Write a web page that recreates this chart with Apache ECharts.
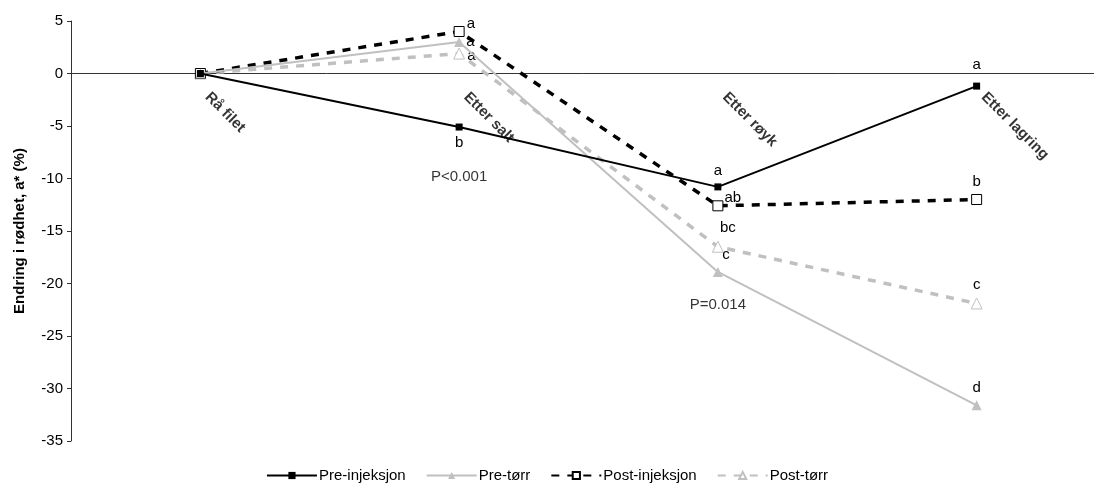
<!DOCTYPE html>
<html>
<head>
<meta charset="utf-8">
<script src="https://cdn.jsdelivr.net/npm/echarts@6/dist/echarts.min.js"></script>
<style>
  html, body { margin: 0; padding: 0; background: #fff; }
  #chart { width: 1094px; height: 488px; }
</style>
</head>
<body>
<div id="chart"></div>
<script>
// kategorier og verdier lest av figuren
const categories = ['Rå filet', 'Etter salt', 'Etter røyk', 'Etter lagring']
const preInjeksjon = [0, -5.1, -10.8, -1.2]
const preTorr = [0, 3.0, -18.9, -31.6]
const postInjeksjon = [0, 4.0, -12.6, -12.0]
const postTorr = [0, 1.9, -16.5, -21.9]
// bokstaver for signifikans
const preInjeksjonLetters = ['', 'b', 'a', 'a']
const preTorrLetters = ['', 'a', 'c', 'd']
const postInjeksjonLetters = ['', 'a', 'ab', 'b']
const postTorrLetters = ['', 'a', 'bc', 'c']
const yTicks = { min: -35, max: 5, step: 5 }
const pNoteCats = ['Etter salt', 'Etter røyk']
const pNoteValues = [-9.8, -22.0]
const pNoteTexts = ['P<0.001', 'P=0.014']

const FONT = 'Liberation Sans, Arial, sans-serif'
const BLACK = '#000000'
const GREY = '#c0c0c0'
const FS = 15

function withLabels(values, letters, posFn) {
  return values.map((v, i) => {
    const p = posFn(i)
    return {
      value: v,
      label: {
        show: letters[i] !== '',
        formatter: letters[i],
        position: p.position,
        offset: p.offset || [0, 0]
      }
    }
  })
}

const chart = echarts.init(document.getElementById('chart'))

chart.setOption({
  animation: false,
  textStyle: { fontFamily: FONT },
  grid: {
    left: 71,
    right: -12,
    top: 21,
    bottom: 47,
    containLabel: false,
    outerBoundsMode: 'none'
  },
  legend: {
    bottom: 0,
    left: 'center',
    itemWidth: 50,
    itemHeight: 9,
    itemGap: 20,
    textStyle: { fontSize: FS, color: BLACK, fontFamily: FONT, padding: [0, 0, 0, -3] },
    data: ['Pre-injeksjon', 'Pre-tørr', 'Post-injeksjon', 'Post-tørr']
  },
  xAxis: {
    type: 'category',
    data: categories,
    boundaryGap: true,
    axisLine: { onZero: true, lineStyle: { color: '#333', width: 1 } },
    axisTick: { show: false },
    axisLabel: { show: false },
    splitLine: { show: false }
  },
  yAxis: {
    type: 'value',
    min: yTicks.min,
    max: yTicks.max,
    interval: yTicks.step,
    name: 'Endring i rødhet, a* (%)',
    nameLocation: 'middle',
    nameGap: 44,
    nameTextStyle: { fontSize: FS, fontWeight: 'bold', color: BLACK, fontFamily: FONT },
    axisLine: { show: true, onZero: false, lineStyle: { color: '#333', width: 1 } },
    axisTick: { show: true, length: 4, lineStyle: { color: '#333' } },
    axisLabel: { fontSize: FS, color: BLACK, margin: 8, fontFamily: FONT },
    splitLine: { show: false }
  },
  series: [
    {
      // kategorinavn langs nullinjen
      name: 'kategorier',
      type: 'scatter',
      symbolSize: 0,
      silent: true,
      z: 1,
      label: {
        show: true,
        position: 'inside',
        offset: [20, 10],
        rotate: -45,
        align: 'left',
        verticalAlign: 'middle',
        fontSize: FS,
        fontWeight: 'bold',
        color: BLACK,
        fontFamily: FONT,
        formatter: p => p.name
      },
      data: categories.map(c => ({ name: c, value: [c, 0] }))
    },
    {
      name: 'p-verdier',
      type: 'scatter',
      symbolSize: 0,
      silent: true,
      z: 1,
      label: {
        show: true,
        position: 'inside',
        fontSize: FS,
        color: BLACK,
        fontFamily: FONT,
        formatter: p => p.name
      },
      data: pNoteTexts.map((t, i) => ({ name: t, value: [pNoteCats[i], pNoteValues[i]] }))
    },
    {
      name: 'Post-tørr',
      type: 'line',
      z: 2,
      symbol: 'triangle',
      symbolSize: 11,
      itemStyle: { color: '#fff', borderColor: GREY, borderWidth: 1 },
      lineStyle: { color: GREY, width: 3.5, type: [8, 8] },
      label: { fontSize: FS, color: BLACK },
      data: withLabels(postTorr, postTorrLetters, i =>
        i === 1 ? { position: 'right', offset: [-3, 2] } :
        i === 2 ? { position: 'top', offset: [10, 0] } :
        { position: 'top' })
    },
    {
      name: 'Post-injeksjon',
      type: 'line',
      z: 3,
      symbol: 'rect',
      symbolSize: 10,
      itemStyle: { color: '#fff', borderColor: BLACK, borderWidth: 1 },
      lineStyle: { color: BLACK, width: 3.5, type: [8, 8] },
      label: { fontSize: FS, color: BLACK },
      data: withLabels(postInjeksjon, postInjeksjonLetters, i =>
        i === 1 ? { position: 'right', offset: [-3, -8] } :
        i === 2 ? { position: 'right', offset: [-4, -8] } :
        { position: 'top' })
    },
    {
      name: 'Pre-tørr',
      type: 'line',
      z: 4,
      symbol: 'triangle',
      symbolSize: 10,
      itemStyle: { color: GREY },
      lineStyle: { color: GREY, width: 2 },
      label: { fontSize: FS, color: BLACK },
      data: withLabels(preTorr, preTorrLetters, i =>
        i === 1 ? { position: 'right', offset: [-3, 0] } :
        i === 2 ? { position: 'top', offset: [8, 0] } :
        { position: 'top' })
    },
    {
      name: 'Pre-injeksjon',
      type: 'line',
      z: 5,
      symbol: 'rect',
      symbolSize: 7,
      itemStyle: { color: BLACK },
      lineStyle: { color: BLACK, width: 2 },
      label: { fontSize: FS, color: BLACK },
      data: withLabels(preInjeksjon, preInjeksjonLetters, i =>
        i === 1 ? { position: 'bottom' } :
        i === 3 ? { position: 'top', offset: [0, -5] } :
        { position: 'top' })
    }
  ]
})
</script>
</body>
</html>
